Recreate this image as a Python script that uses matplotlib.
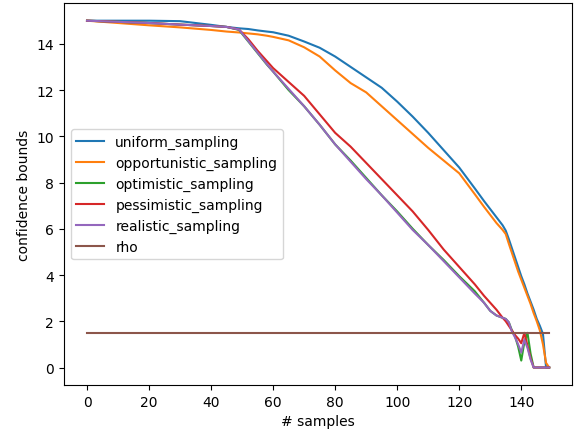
import matplotlib
matplotlib.use("Agg")
import matplotlib.pyplot as plt
import numpy as np

samples = [0, 10, 20, 30, 40, 45, 49, 52, 55, 58,
           60, 65, 70, 75, 80, 85, 90, 95, 100, 105,
           110, 115, 120, 125, 128, 130, 132, 134, 135, 136,
           137, 138, 139, 140, 141, 142, 143, 144, 145, 146,
           147, 148, 149]

uniform = [15.0, 15.0, 15.0, 14.98, 14.82, 14.73, 14.67, 14.64, 14.58, 14.53,
           14.5, 14.35, 14.1, 13.83, 13.45, 13.0, 12.55, 12.1, 11.5, 10.85,
           10.15, 9.4, 8.65, 7.75, 7.2, 6.85, 6.5, 6.15, 5.92, 5.55,
           5.15, 4.75, 4.35, 3.95, 3.6, 3.2, 2.85, 2.5, 2.1, 1.8,
           1.45, 0.0, 0.0]

opportunistic = [15.0, 14.9, 14.8, 14.71, 14.6, 14.53, 14.49, 14.45, 14.41, 14.35,
                 14.3, 14.15, 13.85, 13.45, 12.85, 12.3, 11.9, 11.3, 10.7, 10.1,
                 9.5, 8.95, 8.4, 7.5, 6.95, 6.6, 6.25, 5.95, 5.77, 5.35,
                 4.95, 4.55, 4.15, 3.8, 3.45, 3.1, 2.75, 2.35, 2.0, 1.6,
                 1.0, 0.2, 0.0]

optimistic = [15.0, 14.95, 14.9, 14.83, 14.77, 14.73, 14.6, 14.1, 13.6, 13.1,
              12.8, 12.0, 11.3, 10.5, 9.65, 8.95, 8.2, 7.45, 6.75, 6.0,
              5.3, 4.65, 3.95, 3.3, 2.8, 2.45, 2.25, 2.15, 2.1, 1.95,
              1.6, 1.35, 0.9, 0.3, 1.1, 1.5, 0.6, 0.0, 0.0, 0.0,
              0.0, 0.0, 0.0]

pessimistic = [15.0, 14.95, 14.9, 14.83, 14.77, 14.73, 14.62, 14.2, 13.7, 13.25,
               12.95, 12.35, 11.75, 10.95, 10.15, 9.55, 8.85, 8.15, 7.45, 6.75,
               5.95, 5.1, 4.35, 3.6, 3.1, 2.8, 2.5, 2.15, 2.0, 1.8,
               1.6, 1.4, 1.25, 1.05, 1.5, 0.95, 0.4, 0.0, 0.0, 0.0,
               0.0, 0.0, 0.0]

realistic = [15.0, 14.95, 14.9, 14.83, 14.77, 14.73, 14.62, 14.12, 13.62, 13.12,
             12.8, 12.05, 11.3, 10.5, 9.65, 8.9, 8.15, 7.45, 6.7, 5.95,
             5.3, 4.6, 3.9, 3.2, 2.8, 2.45, 2.25, 2.15, 2.1, 1.95,
             1.55, 1.3, 1.0, 0.65, 1.2, 0.85, 0.35, 0.0, 0.0, 0.0,
             0.0, 0.0, 0.0]

rho = 1.5

fig = plt.figure(figsize=(5.81, 4.35), dpi=100)
ax = fig.add_subplot(111)
fig.subplots_adjust(left=0.110, right=0.985, bottom=0.113, top=0.99)

ax.plot(samples, uniform, label="uniform_sampling")
ax.plot(samples, opportunistic, label="opportunistic_sampling")
ax.plot(samples, optimistic, label="optimistic_sampling")
ax.plot(samples, pessimistic, label="pessimistic_sampling")
ax.plot(samples, realistic, label="realistic_sampling")
ax.plot(samples, np.full(len(samples), rho), label="rho")

ax.set_xlabel("# samples")
ax.set_ylabel("confidence bounds")
ax.legend(loc="center left")

fig.savefig("out.png", dpi=100)
